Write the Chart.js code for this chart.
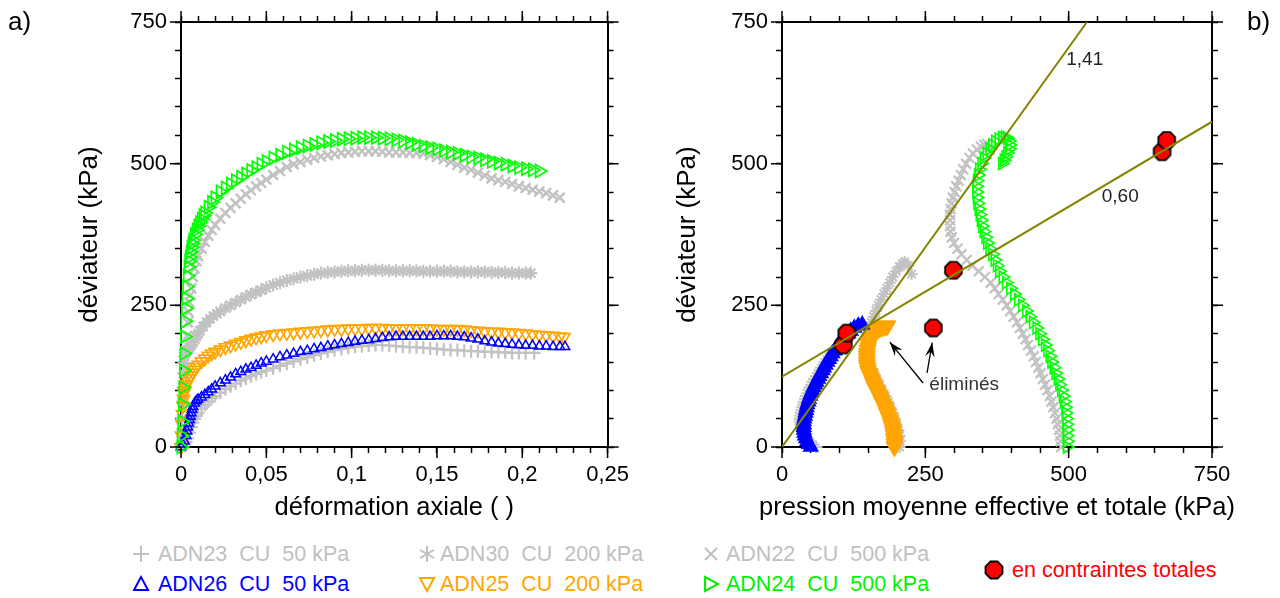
<!DOCTYPE html>
<html lang="fr">
<head>
<meta charset="UTF-8">
<title>Déviateur - essais CU</title>
<script src="https://cdn.jsdelivr.net/npm/chart.js"></script>
<style>
  html, body { margin: 0; padding: 0; background: #fff; }
  body {
    width: 1280px; height: 598px; position: relative; overflow: hidden;
    font-family: 'Liberation Sans', Arial, sans-serif;
  }
  canvas { position: absolute; top: 0; }
  #leftChart { left: 0; }
  #rightChart { left: 640px; }
  .tag { position: absolute; top: 8px; font-size: 26px; line-height: 26px; color: #000; }
  .mk { position: absolute; }
  .lt { position: absolute; font-size: 21.5px; line-height: 24px; white-space: pre; }
  .grey { color: #c0c0c0; }
  .blue { color: #0000ff; }
  .orange { color: #ffa500; }
  .green { color: #00f000; }
  .red { color: #ff0000; }
</style>
</head>
<body>
  <canvas id="leftChart" width="640" height="530"></canvas>
  <canvas id="rightChart" width="640" height="530"></canvas>

  <div class="tag" style="left:8px">a)</div>
  <div class="tag" style="left:1247px">b)</div>

  <!-- legend -->
  <svg class="mk" style="left:132px;top:545px" width="18" height="18"><path d="M9 1V17M1 9H17" stroke="#c0c0c0" stroke-width="2"/></svg>
  <div class="lt grey" style="left:158px;top:542px">ADN23  CU  50 kPa</div>
  <svg class="mk" style="left:418px;top:545px" width="18" height="18"><path d="M9 1V17M2.1 5L15.9 13M2.1 13L15.9 5" stroke="#c0c0c0" stroke-width="2"/></svg>
  <div class="lt grey" style="left:440px;top:542px">ADN30  CU  200 kPa</div>
  <svg class="mk" style="left:702px;top:545px" width="18" height="18"><path d="M3 3L15 15M15 3L3 15" stroke="#c0c0c0" stroke-width="2"/></svg>
  <div class="lt grey" style="left:726px;top:542px">ADN22  CU  500 kPa</div>

  <svg class="mk" style="left:132px;top:575px" width="18" height="18"><polygon points="9,2 16,15 2,15" fill="none" stroke="#0000ff" stroke-width="2"/></svg>
  <div class="lt blue" style="left:158px;top:572px">ADN26  CU  50 kPa</div>
  <svg class="mk" style="left:418px;top:575px" width="18" height="18"><polygon points="2,3 16,3 9,16" fill="none" stroke="#ffa500" stroke-width="2"/></svg>
  <div class="lt orange" style="left:440px;top:572px">ADN25  CU  200 kPa</div>
  <svg class="mk" style="left:702px;top:575px" width="18" height="18"><polygon points="3,2 16,9 3,16" fill="none" stroke="#00f000" stroke-width="2"/></svg>
  <div class="lt green" style="left:726px;top:572px">ADN24  CU  500 kPa</div>

  <svg class="mk" style="left:984px;top:560px" width="20" height="20"><polygon points="6.5,1.5 13.5,1.5 18.5,6.5 18.5,13.5 13.5,18.5 6.5,18.5 1.5,13.5 1.5,6.5" fill="#ff0000" stroke="#000" stroke-width="1.8"/></svg>
  <div class="lt red" style="left:1012px;top:558px">en contraintes totales</div>

<script>
// ---------- a) deviateur vs deformation axiale ----------
const epsTicksMajor = [0, 0.05, 0.1, 0.15, 0.2, 0.25];
const qTicksMajor = [0, 250, 500, 750];
const pTicksMajor = [0, 250, 500, 750];

const adn23 = [[0,0],[0.002,5],[0.003,9],[0.004,15],[0.005,25],[0.006,35],[0.007,43],[0.008,50],[0.009,55],[0.010,60],[0.012,68],[0.014,74],[0.016,80],[0.018,86],[0.020,90],[0.023,96],[0.026,102],[0.029,107],[0.032,112],[0.035,117],[0.038,121],[0.041,125],[0.044,129],[0.047,132],[0.050,135],[0.054,139],[0.058,143],[0.062,147],[0.066,151],[0.070,155],[0.074,158],[0.078,162],[0.082,165],[0.086,168],[0.090,171],[0.094,173],[0.098,175],[0.102,177],[0.106,178],[0.110,179],[0.114,180],[0.118,180],[0.122,179],[0.126,178],[0.130,177],[0.134,176],[0.138,176],[0.142,175],[0.146,174],[0.150,173],[0.154,172],[0.158,171],[0.162,171],[0.166,170],[0.170,169],[0.174,169],[0.178,168],[0.182,168],[0.186,167],[0.190,167],[0.194,166],[0.198,166],[0.202,166],[0.207,166]];

const adn30 = [[0,0],[0.0003,25],[0.0006,50],[0.0009,80],[0.0012,105],[0.0015,130],[0.0018,148],[0.002,160],[0.0025,165],[0.003,168],[0.004,172],[0.005,176],[0.006,180],[0.007,185],[0.008,190],[0.009,195],[0.010,200],[0.011,205],[0.013,213],[0.015,220],[0.017,226],[0.019,231],[0.021,235],[0.023,239],[0.026,245],[0.029,250],[0.032,255],[0.035,260],[0.038,265],[0.041,269],[0.044,273],[0.047,277],[0.050,281],[0.054,286],[0.058,290],[0.062,294],[0.066,297],[0.070,300],[0.074,302],[0.078,305],[0.082,307],[0.086,308],[0.090,309],[0.094,310],[0.098,311],[0.102,311],[0.106,312],[0.110,312],[0.114,312],[0.118,312],[0.122,311],[0.126,311],[0.130,311],[0.134,311],[0.138,311],[0.142,310],[0.146,310],[0.150,310],[0.154,310],[0.158,310],[0.162,309],[0.166,309],[0.170,309],[0.174,309],[0.178,309],[0.182,308],[0.186,308],[0.190,308],[0.194,307],[0.198,307],[0.202,307],[0.205,307]];

const adn22 = [[0,0],[0.0005,25],[0.001,50],[0.0015,80],[0.002,110],[0.0025,140],[0.003,170],[0.0035,196],[0.004,220],[0.0045,238],[0.005,255],[0.0055,268],[0.006,280],[0.007,300],[0.008,315],[0.009,328],[0.010,337],[0.012,350],[0.014,362],[0.016,373],[0.018,383],[0.020,392],[0.023,403],[0.026,413],[0.029,422],[0.032,430],[0.035,438],[0.038,446],[0.041,453],[0.044,460],[0.047,466],[0.050,472],[0.054,480],[0.058,487],[0.062,494],[0.066,499],[0.070,503],[0.074,507],[0.078,510],[0.082,513],[0.086,515],[0.090,517],[0.094,519],[0.098,520],[0.102,521],[0.106,522],[0.110,522],[0.114,522],[0.118,521],[0.122,520],[0.126,520],[0.130,520],[0.134,519],[0.138,519],[0.142,518],[0.146,515],[0.150,512],[0.154,508],[0.158,503],[0.162,498],[0.166,493],[0.170,489],[0.174,484],[0.178,479],[0.182,474],[0.186,471],[0.190,468],[0.194,464],[0.198,460],[0.202,457],[0.206,454],[0.210,451],[0.214,448],[0.218,444],[0.222,440]];

const adn26 = [[0,0],[0.001,5],[0.002,10],[0.003,20],[0.0035,28],[0.004,35],[0.0045,42],[0.005,48],[0.0055,54],[0.006,60],[0.0065,66],[0.007,71],[0.008,77],[0.009,81],[0.010,84],[0.012,88],[0.014,92],[0.016,97],[0.018,102],[0.020,107],[0.023,113],[0.026,118],[0.029,123],[0.032,129],[0.035,133],[0.038,137],[0.041,140],[0.044,144],[0.047,148],[0.050,151],[0.054,155],[0.058,159],[0.062,162],[0.066,165],[0.070,168],[0.074,170],[0.078,173],[0.082,175],[0.086,178],[0.090,180],[0.094,182],[0.098,184],[0.102,186],[0.106,188],[0.110,189],[0.114,191],[0.118,193],[0.122,194],[0.126,195],[0.130,195],[0.134,195],[0.138,195],[0.142,195],[0.146,195],[0.150,196],[0.154,196],[0.158,196],[0.162,195],[0.166,194],[0.170,192],[0.174,190],[0.178,187],[0.182,185],[0.186,183],[0.190,182],[0.194,181],[0.198,180],[0.202,179],[0.206,179],[0.210,178],[0.214,178],[0.218,177],[0.222,177],[0.225,177]];

const adn25 = [[0,0],[0.0003,20],[0.0006,40],[0.0009,58],[0.0012,72],[0.0015,85],[0.0018,95],[0.002,100],[0.0025,106],[0.003,110],[0.004,116],[0.005,121],[0.006,126],[0.007,131],[0.008,136],[0.009,141],[0.010,145],[0.012,151],[0.014,156],[0.016,161],[0.018,165],[0.020,168],[0.023,172],[0.026,176],[0.029,179],[0.032,182],[0.035,185],[0.038,188],[0.041,191],[0.044,193],[0.047,195],[0.050,197],[0.054,199],[0.058,200],[0.062,201],[0.066,202],[0.070,203],[0.074,204],[0.078,205],[0.082,206],[0.086,207],[0.090,208],[0.094,208],[0.098,209],[0.102,209],[0.106,209],[0.110,210],[0.114,210],[0.118,210],[0.122,209],[0.126,209],[0.130,209],[0.134,209],[0.138,209],[0.142,209],[0.146,209],[0.150,208],[0.154,208],[0.158,208],[0.162,208],[0.166,207],[0.170,206],[0.174,205],[0.178,204],[0.182,203],[0.186,203],[0.190,202],[0.194,202],[0.198,201],[0.202,200],[0.206,199],[0.210,198],[0.214,197],[0.218,196],[0.222,195],[0.2244,194]];

const adn24 = [[0,0],[0.0003,20],[0.0006,45],[0.0009,75],[0.0012,105],[0.0015,135],[0.0018,165],[0.0021,195],[0.0024,222],[0.0027,245],[0.003,262],[0.0034,283],[0.0038,302],[0.0042,318],[0.0046,328],[0.005,335],[0.0055,344],[0.006,352],[0.0065,359],[0.007,365],[0.008,375],[0.009,383],[0.010,390],[0.011,396],[0.012,402],[0.013,408],[0.014,413],[0.016,423],[0.018,432],[0.020,440],[0.023,450],[0.026,457],[0.029,464],[0.032,470],[0.035,476],[0.038,482],[0.041,488],[0.044,493],[0.047,499],[0.050,504],[0.054,510],[0.058,515],[0.062,520],[0.066,524],[0.070,528],[0.074,531],[0.078,534],[0.082,537],[0.086,539],[0.090,541],[0.094,543],[0.098,544],[0.102,545],[0.106,546],[0.110,546],[0.114,546],[0.118,545],[0.122,544],[0.126,542],[0.130,540],[0.134,537],[0.138,534],[0.142,531],[0.146,528],[0.150,526],[0.154,523],[0.158,520],[0.162,518],[0.166,515],[0.170,512],[0.174,510],[0.178,507],[0.182,504],[0.186,501],[0.190,499],[0.194,496],[0.198,493],[0.202,491],[0.206,489],[0.210,487]];

// ---------- b) deviateur vs pression moyenne ----------
const adn23p = [[60,0],[55,5],[50,10],[45,15],[41,20],[38,25],[35,30],[33,35],[32,40],[31,45],[31,50],[32,55],[33,60],[34,65],[35,70],[37,75],[38,80],[40,85],[42,90],[44,95],[46,100],[48,105],[51,110],[53,115],[56,120],[59,125],[62,130],[65,135],[68,140],[71,145],[74,150],[78,155],[81,160],[85,165],[89,170],[93,175],[97,180],[100,183]];

const adn30p = [[205,0],[206,10],[205,20],[203,30],[200,40],[197,50],[193,60],[189,70],[185,80],[180,90],[175,100],[170,110],[165,120],[160,130],[155,140],[151,150],[148,160],[146,170],[146,180],[147,190],[149,200],[152,210],[156,220],[160,230],[164,240],[168,250],[173,260],[178,270],[183,280],[188,290],[193,300],[199,310],[205,318],[210,324],[214,327],[220,320],[226,305]];

const adn22p = [[487,0],[486,10],[485,20],[483,30],[481,40],[479,50],[476,60],[473,70],[470,80],[467,90],[463,100],[459,110],[455,120],[451,130],[447,140],[443,150],[439,160],[434,170],[429,180],[425,190],[420,200],[415,210],[410,220],[404,230],[398,240],[392,250],[385,260],[378,270],[371,280],[364,290],[354,300],[343,310],[332,320],[322,330],[313,340],[306,350],[300,360],[296,370],[294,380],[293,390],[293,400],[293,410],[294,420],[296,430],[298,440],[301,450],[304,460],[308,470],[312,480],[316,490],[321,500],[327,510],[333,518],[340,525],[347,530],[353,533],[358,535]];

const adn26p = [[50,0],[47,5],[44,10],[42,15],[40,20],[39,25],[38,30],[38,35],[38,40],[38,45],[39,50],[40,55],[41,60],[42,65],[43,70],[44,75],[46,80],[47,85],[49,90],[51,95],[53,100],[55,105],[58,110],[60,115],[63,120],[65,125],[68,130],[71,135],[73,140],[76,145],[79,150],[82,155],[85,160],[88,165],[92,170],[95,175],[98,180],[102,185],[106,190],[110,195],[115,200],[120,205],[126,210],[133,214],[140,216]];

const adn25p = [[196,0],[196,5],[196,10],[195,15],[195,20],[194,25],[193,30],[192,35],[190,40],[189,45],[187,50],[185,55],[183,60],[181,65],[179,70],[177,75],[174,80],[172,85],[170,90],[167,95],[165,100],[162,105],[160,110],[158,115],[156,120],[154,125],[152,130],[150,135],[149,140],[148,145],[148,150],[148,155],[148,160],[148,165],[149,170],[150,175],[151,180],[153,185],[155,190],[157,195],[160,200],[163,204],[166,207],[169,209],[172,211],[175,212],[178,213],[181,214],[184,214]];

const adn24p = [[497,0],[497,10],[497,20],[497,30],[496,40],[496,50],[495,60],[494,70],[492,80],[490,90],[487,100],[484,110],[481,120],[477,130],[474,140],[470,150],[467,160],[463,170],[459,180],[454,190],[449,200],[444,210],[438,220],[432,230],[426,240],[419,250],[412,260],[405,270],[398,280],[391,290],[385,300],[379,310],[375,320],[371,330],[367,340],[362,350],[358,360],[355,370],[352,380],[349,390],[347,400],[345,410],[343,420],[341,430],[340,440],[339,450],[339,460],[340,470],[342,480],[344,490],[348,500],[352,510],[357,518],[362,526],[367,533],[372,539],[378,543],[384,546],[389,547],[393,545],[396,540],[397,533],[396,526],[393,519],[390,512],[387,506],[384,500]];

const totalStress = [[107,180],[113,201],[299,312],[264,210],[663,521],[671,541]];
const line141 = [[0,0],[532,750]];
const line060 = [[0,124],[750,574]];

const GREY = '#c2c2c2', BLUE = '#0000ff', ORANGE = '#ffa500', GREEN = '#00ff00', OLIVE = '#858500';
const FONT = "'Liberation Sans', Arial, sans-serif";
const TITLE_SIZE = 25.5;

const toXY = arr => arr.map(d => ({x: d[0], y: d[1]}));

function octagon(size) {
  const c = document.createElement('canvas');
  c.width = c.height = size;
  const g = c.getContext('2d');
  const r = size / 2 - 1.5, m = size / 2;
  g.beginPath();
  for (let i = 0; i < 8; i++) {
    const a = Math.PI / 8 + i * Math.PI / 4;
    g.lineTo(m + r * Math.cos(a), m + r * Math.sin(a));
  }
  g.closePath();
  g.fillStyle = '#ff0000';
  g.fill();
  g.lineWidth = 1.8;
  g.strokeStyle = '#000';
  g.stroke();
  return c;
}

function markers(data, style, color, radius, opts) {
  return Object.assign({
    data: toXY(data),
    pointStyle: style,
    pointRadius: radius,
    pointBorderColor: color,
    pointBackgroundColor: 'rgba(0,0,0,0)',
    pointBorderWidth: 1.6,
    pointRotation: 0,
    showLine: false,
    clip: 12
  }, opts || {});
}

// longer tick marks at the labelled values, and the bottom title drawn at its natural width
const frameExtras = {
  id: 'frameExtras',
  afterDraw(chart, args, o) {
    const {ctx} = chart;
    const sx = chart.scales.x, sx2 = chart.scales.x2, sy = chart.scales.y, sy2 = chart.scales.y2;
    const len = 11;
    ctx.save();
    ctx.strokeStyle = '#000';
    ctx.lineWidth = 1.5;
    ctx.beginPath();
    o.xMajor.forEach(v => {
      const px = sx.getPixelForValue(v);
      ctx.moveTo(px, sx.top); ctx.lineTo(px, sx.top + len);
      ctx.moveTo(px, sx2.bottom); ctx.lineTo(px, sx2.bottom - len);
    });
    o.yMajor.forEach(v => {
      const py = sy.getPixelForValue(v);
      ctx.moveTo(sy.right, py); ctx.lineTo(sy.right - len, py);
      ctx.moveTo(sy2.left, py); ctx.lineTo(sy2.left + len, py);
    });
    ctx.stroke();
    ctx.fillStyle = '#000';
    ctx.font = TITLE_SIZE + 'px ' + FONT;
    ctx.textAlign = 'center';
    ctx.textBaseline = 'middle';
    ctx.fillText(o.xTitle, (sx.left + sx.right) / 2, sx.bottom - 22);
    ctx.restore();
  }
};

const axisGrid = {drawOnChartArea: false, drawTicks: true, tickLength: 6, tickWidth: 1.5, tickColor: '#000'};
const axisBorder = {display: true, color: '#000', width: 2};

function scales(xMax, xStep, xMajorStep, xLabel, yWidth, y2Width, yTitlePad) {
  const xLab = v => {
    const n = Math.round(v / xStep);
    return n % Math.round(xMajorStep / xStep) === 0 ? xLabel(v) : '';
  };
  return {
    x: {
      type: 'linear', position: 'bottom', min: 0, max: xMax,
      ticks: {stepSize: xStep, maxTicksLimit: 200, autoSkip: false, maxRotation: 0, padding: 11,
              color: '#000', font: {family: FONT, size: 22, lineHeight: 1}, callback: xLab},
      grid: axisGrid, border: axisBorder,
      afterFit: s => { s.height = 83; }
    },
    x2: {
      type: 'linear', position: 'top', min: 0, max: xMax,
      ticks: {display: false, stepSize: xStep, maxTicksLimit: 200, autoSkip: false},
      grid: axisGrid, border: axisBorder,
      afterFit: s => { s.height = 22; }
    },
    y: {
      type: 'linear', position: 'left', min: 0, max: 750,
      ticks: {stepSize: 50, maxTicksLimit: 200, autoSkip: false, padding: 8, color: '#000',
              font: {family: FONT, size: 22, lineHeight: 1},
              callback: v => (v % 250 === 0 ? String(v) : '')},
      grid: axisGrid, border: axisBorder,
      title: {display: true, text: 'déviateur (kPa)', color: '#000', font: {family: FONT, size: 26, lineHeight: 1}, padding: {top: yTitlePad, bottom: 0}},
      afterFit: s => { s.width = yWidth; }
    },
    y2: {
      type: 'linear', position: 'right', min: 0, max: 750,
      ticks: {display: false, stepSize: 50, maxTicksLimit: 200, autoSkip: false},
      grid: axisGrid, border: axisBorder,
      afterFit: s => { s.width = y2Width; }
    }
  };
}

const common = {
  responsive: false,
  animation: false,
  events: [],
  layout: {padding: 0},
  plugins: {legend: {display: false}, tooltip: {enabled: false}}
};

new Chart(document.getElementById('leftChart'), {
  type: 'scatter',
  data: {
    datasets: [
      markers(adn24, 'triangle', GREEN, 7.5, {pointRotation: 90, order: 1, pointBorderWidth: 1.7}),
      markers(adn26, 'triangle', BLUE, 5.5, {order: 2, pointBorderWidth: 1.5}),
      markers(adn25, 'triangle', ORANGE, 7, {pointRotation: 180, order: 3, pointBorderWidth: 1.7}),
      markers(adn22, 'crossRot', GREY, 7, {order: 4, pointBorderWidth: 2.4}),
      markers(adn30, 'star', GREY, 6.5, {order: 5, pointBorderWidth: 2.2}),
      markers(adn23, 'cross', GREY, 6.5, {order: 6, pointBorderWidth: 2.2})
    ]
  },
  options: Object.assign({}, common, {
    scales: scales(0.25, 0.01, 0.05, v => String(Math.round(v * 100) / 100).replace('.', ','), 181, 29, 77),
    plugins: Object.assign({}, common.plugins,
      {frameExtras: {xMajor: epsTicksMajor, yMajor: qTicksMajor, xTitle: 'déformation axiale ( )'}})
  }),
  plugins: [frameExtras]
});

// slopes, arrows and notes of panel b
const notes = {
  id: 'notes',
  afterDatasetsDraw(chart) {
    const {ctx} = chart;
    const xs = chart.scales.x, ys = chart.scales.y;
    const P = (p, q) => [xs.getPixelForValue(p), ys.getPixelForValue(q)];
    ctx.save();
    ctx.font = "19px " + FONT;
    ctx.textBaseline = 'middle';
    ctx.textAlign = 'center';
    ctx.fillStyle = '#222';
    let t = P(528, 683); ctx.fillText('1,41', t[0], t[1]);
    t = P(590, 441); ctx.fillText('0,60', t[0], t[1]);
    ctx.textAlign = 'left';
    ctx.fillStyle = '#333';
    t = P(257, 110); ctx.fillText('éliminés', t[0], t[1]);
    const arrow = (a, b) => {
      const A = P(a[0], a[1]), B = P(b[0], b[1]);
      const ang = Math.atan2(B[1] - A[1], B[0] - A[0]);
      ctx.strokeStyle = '#000';
      ctx.lineWidth = 1.3;
      ctx.beginPath(); ctx.moveTo(A[0], A[1]); ctx.lineTo(B[0], B[1]); ctx.stroke();
      const L = 15, W = 0.33;
      ctx.fillStyle = '#000';
      ctx.beginPath();
      ctx.moveTo(B[0], B[1]);
      ctx.lineTo(B[0] - L * Math.cos(ang - W), B[1] - L * Math.sin(ang - W));
      ctx.lineTo(B[0] - 0.6 * L * Math.cos(ang), B[1] - 0.6 * L * Math.sin(ang));
      ctx.lineTo(B[0] - L * Math.cos(ang + W), B[1] - L * Math.sin(ang + W));
      ctx.closePath(); ctx.fill();
    };
    arrow([246, 113], [188, 185]);
    arrow([253, 131], [262, 184]);
    ctx.restore();
  }
};

new Chart(document.getElementById('rightChart'), {
  type: 'scatter',
  data: {
    datasets: [
      {data: toXY(line141), showLine: true, borderColor: OLIVE, borderWidth: 2, pointRadius: 0, order: 0, clip: 0},
      {data: toXY(line060), showLine: true, borderColor: OLIVE, borderWidth: 2, pointRadius: 0, order: 0, clip: 0},
      {data: toXY(totalStress), pointStyle: octagon(21), pointRadius: 10, showLine: false, order: 1, clip: 12},
      markers(adn24p, 'triangle', GREEN, 7, {pointRotation: 90, order: 2}),
      markers(adn26p, 'triangle', BLUE, 8, {order: 3, pointBackgroundColor: BLUE}),
      markers(adn25p, 'triangle', ORANGE, 9, {pointRotation: 180, order: 4, pointBackgroundColor: ORANGE}),
      markers(adn22p, 'crossRot', GREY, 7, {order: 5, pointBorderWidth: 2.2}),
      markers(adn30p, 'star', GREY, 6, {order: 6, pointBorderWidth: 2}),
      markers(adn23p, 'cross', GREY, 6, {order: 7, pointBorderWidth: 2})
    ]
  },
  options: Object.assign({}, common, {
    scales: scales(750, 50, 250, v => String(v), 142, 68, 35),
    plugins: Object.assign({}, common.plugins,
      {frameExtras: {xMajor: pTicksMajor, yMajor: qTicksMajor, xTitle: 'pression moyenne effective et totale (kPa)'}})
  }),
  plugins: [frameExtras, notes]
});
</script>
</body>
</html>
